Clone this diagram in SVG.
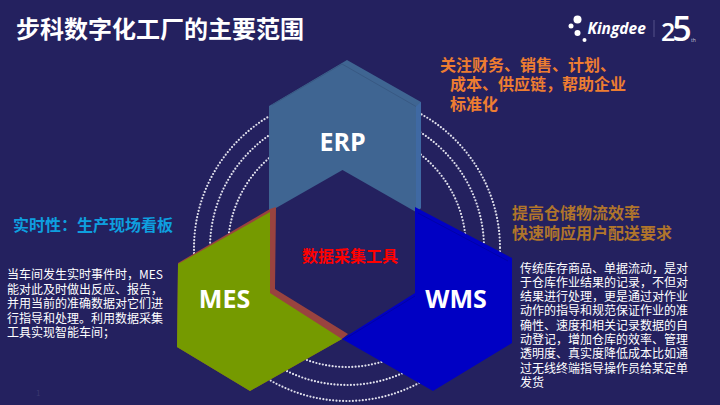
<svg xmlns="http://www.w3.org/2000/svg" width="720" height="405" viewBox="0 0 720 405">
<style>
text{font-family:"Noto Sans CJK SC","Noto Sans",sans-serif}
.ring{fill:none;stroke:#e0e0ec;stroke-width:2.2;stroke-linecap:round;stroke-dasharray:0 3.3}
.lab{font-family:"Open Sans","Noto Sans",sans-serif;font-weight:700;fill:#fff;text-anchor:middle}
.body{font-size:12px;fill:#fff}
.call{font-size:16px;font-weight:700}
</style>
<rect width="720" height="405" fill="#24215f"/>
<g id="rings">
<circle class="ring" cx="347" cy="248" r="153"/>
<circle class="ring" cx="347" cy="248" r="137"/>
<circle class="ring" cx="347" cy="248" r="119"/>
</g>
<g id="title"><text x="16" y="38" font-size="24" font-weight="700" fill="#fff">步科数字化工厂的主要范围</text></g>
<g id="logo">
<circle cx="577.500" cy="19.500" r="4" fill="#fff"/>
<circle cx="571" cy="26" r="2.500" fill="#fff"/>
<circle cx="577.500" cy="33" r="3" fill="#fff"/>
<circle cx="584.500" cy="40" r="2" fill="#fff"/>
<text x="587.500" y="34" font-size="15.500" font-weight="700" font-style="italic" fill="#fff" style="font-family:'Open Sans',sans-serif">Kingdee</text>
<rect x="653.500" y="20" width="1" height="17" fill="#55528a"/>
<text x="661" y="41" fill="#fff" font-weight="600" style="font-family:'Open Sans',sans-serif"><tspan font-size="25">2</tspan><tspan font-size="34" dx="-3">5</tspan></text>
<text x="691" y="42" font-size="5" fill="#c8c8dc" style="font-family:'Open Sans',sans-serif">th</text>
</g>
<g id="erp">
<polygon points="347,60 269,106 269,212 342.500,170 416,212 421,208 421,102" fill="#3f6592"/>
<polygon points="416,106.500 421,102 421,208 416,212" fill="#3f69a3"/>
<polyline points="272,105 342,64 416,106.500" fill="none" stroke="#36557f" stroke-width="0.800"/>
<text class="lab" x="342.500" y="151" font-size="25">ERP</text>
</g>
<g id="mes">
<polygon points="178,263 270,209 276,207 275,289 348,334 342,339 250,391 177,347" fill="#99433f"/>
<polygon points="178,264 270,212 270,293 342,339 250,391 177,347" fill="#759a00"/>
<text class="lab" x="224.500" y="308" font-size="25">MES</text>
</g>
<g id="wms">
<polygon points="415,207 512,258 512,343 433,391 342,339 415,293" fill="#0000c4"/>
<polyline points="418,213 508,261" fill="none" stroke="#0000a8" stroke-width="1"/>
<polyline points="345,339 415,296" fill="none" stroke="#0000a8" stroke-width="1"/>
<text class="lab" x="456" y="308" font-size="25">WMS</text>
</g>
<g id="center"><text x="302" y="262" class="call" fill="#ff0000">数据采集工具</text></g>
<g id="erp-note" class="call" fill="#ed7d31">
<text x="440" y="71">关注财务、销售、计划、</text>
<text x="450" y="90">成本、供应链，帮助企业</text>
<text x="450" y="110">标准化</text>
</g>
<g id="mes-note">
<text x="13" y="231" class="call" fill="#0e9fdf">实时性：生产现场看板</text>
<g class="body">
<text x="7" y="279">当车间发生实时事件时，MES</text>
<text x="7" y="293.500">能对此及时做出反应、报告，</text>
<text x="7" y="308">并用当前的准确数据对它们进</text>
<text x="7" y="322.500">行指导和处理。利用数据采集</text>
<text x="7" y="337">工具实现智能车间；</text>
</g>
<text x="36" y="396" font-size="8" fill="#3a376f">1</text>
</g>
<g id="wms-note">
<g class="call" fill="#b0752b">
<text x="512" y="219">提高仓储物流效率</text>
<text x="512" y="239">快速响应用户配送要求</text>
</g>
<g class="body">
<text x="520" y="272.500">传统库存商品、单据流动，是对</text>
<text x="520" y="286.800">于仓库作业结果的记录，不但对</text>
<text x="520" y="301.100">结果进行处理，更是通过对作业</text>
<text x="520" y="315.400">动作的指导和规范保证作业的准</text>
<text x="520" y="329.700">确性、速度和相关记录数据的自</text>
<text x="520" y="344">动登记，增加仓库的效率、管理</text>
<text x="520" y="358.300">透明度、真实度降低成本比如通</text>
<text x="520" y="372.600">过无线终端指导操作员给某定单</text>
<text x="520" y="386.900">发货</text>
</g>
</g>
</svg>
